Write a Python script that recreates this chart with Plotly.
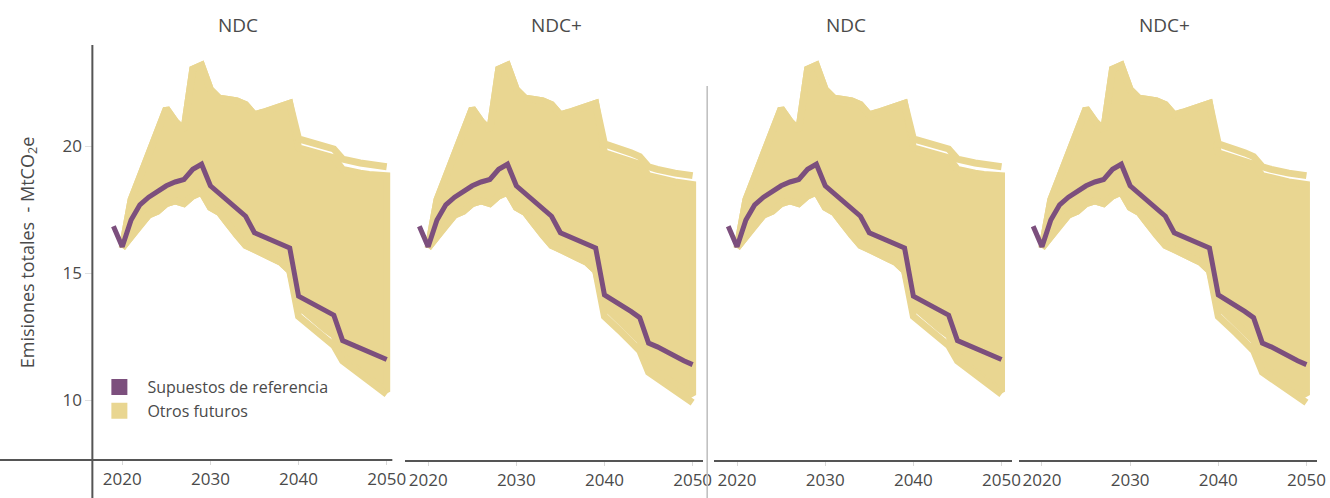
import plotly.graph_objects as go

# ---------------- data ----------------
years_ref = list(range(2019, 2051))
years_fut = list(range(2020, 2051))

ref_ndc = [16.85, 16.05, 17.1, 17.7, 18.0, 18.25, 18.45, 18.6, 18.7, 19.1, 19.3,
           18.45, 18.15, 17.85, 17.55, 17.25, 16.6, 16.45, 16.3, 16.15, 16.0,
           14.1, 13.9, 13.75, 13.55, 13.35, 12.35, 12.2, 12.05, 11.9, 11.75, 11.6]
ref_ndcplus = [16.85, 16.05, 17.1, 17.7, 18.0, 18.25, 18.45, 18.6, 18.7, 19.1, 19.3,
               18.45, 18.15, 17.85, 17.55, 17.25, 16.6, 16.45, 16.3, 16.15, 16.0,
               14.15, 13.95, 13.75, 13.5, 13.25, 12.25, 12.1, 11.9, 11.75, 11.55, 11.4]

# highest / second-highest / second-lowest / lowest of the "other futures" runs
fut_top_ndc = [16.0, 17.9, 18.8, 19.7, 20.6, 21.5, 21.0, 20.65, 23.05, 23.2,
               22.25, 21.9, 21.85, 21.8, 21.65, 21.25, 21.35, 21.45, 21.55, 21.7,
               20.3, 20.2, 20.1, 20.0, 19.9, 19.5, 19.4, 19.35, 19.3, 19.25, 19.2]
fut_top2_ndc = [16.0, 17.9, 18.8, 19.7, 20.6, 21.5, 21.0, 20.65, 23.05, 23.2,
                22.25, 21.9, 21.85, 21.8, 21.65, 21.25, 21.35, 21.45, 21.55, 21.7,
                19.95, 19.85, 19.75, 19.65, 19.55, 19.1, 19.0, 18.95, 18.9, 18.85, 18.85]
fut_low2_ndc = [16.0, 16.45, 16.9, 17.3, 17.45, 17.75, 17.85, 17.75, 18.05, 18.2,
                17.6, 17.4, 16.95, 16.5, 16.1, 15.95, 15.75, 15.6, 15.43, 15.1,
                13.7, 13.4, 13.1, 12.8, 12.55, 11.8, 11.4, 11.1, 10.85, 10.6, 10.33]
fut_low_ndc = [16.0, 16.45, 16.9, 17.3, 17.45, 17.75, 17.85, 17.75, 18.05, 18.2,
               17.6, 17.4, 16.95, 16.5, 16.1, 15.95, 15.75, 15.6, 15.43, 15.1,
               13.3, 13.0, 12.7, 12.4, 12.15, 11.55, 11.3, 11.0, 10.75, 10.5, 10.23]

fut_top_ndcplus = [16.0, 17.9, 18.8, 19.7, 20.6, 21.5, 21.0, 20.65, 23.05, 23.2,
                   22.25, 21.9, 21.85, 21.8, 21.65, 21.25, 21.35, 21.45, 21.55, 21.7,
                   20.1, 20.0, 19.9, 19.75, 19.6, 19.2, 19.1, 19.0, 18.95, 18.9, 18.85]
fut_top2_ndcplus = [16.0, 17.9, 18.8, 19.7, 20.6, 21.5, 21.0, 20.65, 23.05, 23.2,
                    22.25, 21.9, 21.85, 21.8, 21.65, 21.25, 21.35, 21.45, 21.55, 21.7,
                    19.75, 19.65, 19.55, 19.45, 19.3, 18.85, 18.75, 18.65, 18.6, 18.55, 18.5]
fut_low2_ndcplus = [16.0, 16.45, 16.9, 17.3, 17.45, 17.75, 17.85, 17.75, 18.05, 18.2,
                    17.6, 17.4, 16.95, 16.5, 16.1, 15.95, 15.75, 15.6, 15.43, 15.1,
                    13.7, 13.4, 13.05, 12.7, 12.35, 11.45, 11.1, 10.85, 10.6, 10.4, 10.2]
fut_low_ndcplus = [16.0, 16.45, 16.9, 17.3, 17.45, 17.75, 17.85, 17.75, 18.05, 18.2,
                   17.6, 17.4, 16.95, 16.5, 16.1, 15.95, 15.75, 15.6, 15.43, 15.1,
                   13.3, 13.0, 12.65, 12.3, 11.95, 11.1, 10.85, 10.6, 10.35, 10.1, 9.9]

panel_titles = ["NDC", "NDC+", "NDC", "NDC+"]
x_ticks = [2020, 2030, 2040, 2050]
y_ticks = [10, 15, 20]

set_ndc = (ref_ndc, fut_top_ndc, fut_top2_ndc, fut_low2_ndc, fut_low_ndc)
set_ndcplus = (ref_ndcplus, fut_top_ndcplus, fut_top2_ndcplus, fut_low2_ndcplus, fut_low_ndcplus)
panels = [set_ndc, set_ndcplus, set_ndc, set_ndcplus]

# ---------------- style ----------------
W, H = 1330, 498
M_T, M_B = 45, 38
PH = H - M_T - M_B
PURPLE = "#7C4F7D"
YELLOW = "#E9D691"
AXIS = "#555555"
TXT = "#4a4a4a"
FONT = "Open Sans"
panel_left_px = [100, 408, 719, 1026]
panel_w_px = 300
x_range = [2017.4, 2051.2]
y_range = [7.64, 24.0]
FUT_W = 7

fig = go.Figure()

for i, (ref, top, top2, low2, low) in enumerate(panels):
    xa = "x" if i == 0 else f"x{i+1}"
    ya = "y" if i == 0 else f"y{i+1}"
    # band of the bulk of futures
    fig.add_trace(go.Scatter(
        x=years_fut + years_fut[::-1], y=top2 + low2[::-1],
        xaxis=xa, yaxis=ya, mode="lines", fill="toself",
        fillcolor=YELLOW, line=dict(color=YELLOW, width=FUT_W),
        showlegend=False, hoverinfo="skip"))
    # extreme futures
    for arr in (top, low):
        fig.add_trace(go.Scatter(
            x=years_fut, y=arr, xaxis=xa, yaxis=ya, mode="lines",
            line=dict(color=YELLOW, width=FUT_W), showlegend=False, hoverinfo="skip"))
    fig.add_trace(go.Scatter(
        x=years_ref, y=ref, xaxis=xa, yaxis=ya, mode="lines",
        line=dict(color=PURPLE, width=5), showlegend=False))

# legend entries
fig.add_trace(go.Scatter(x=[None], y=[None], mode="markers", name="Supuestos de referencia",
                         marker=dict(symbol="square", size=20, color=PURPLE)))
fig.add_trace(go.Scatter(x=[None], y=[None], mode="markers", name="Otros futuros",
                         marker=dict(symbol="square", size=20, color=YELLOW)))

def py(p):
    return (M_T + PH - p) / PH

layout = dict(
    width=W, height=H,
    margin=dict(l=0, r=0, t=M_T, b=M_B),
    paper_bgcolor="white", plot_bgcolor="white",
    font=dict(family=FONT, color=TXT, size=17),
    showlegend=True,
    legend=dict(x=92 / W, y=py(370), xanchor="left", yanchor="top",
                font=dict(size=16, color=TXT), itemwidth=46, bgcolor="rgba(0,0,0,0)",
                tracegroupgap=0),
)

for i in range(4):
    xk = "xaxis" if i == 0 else f"xaxis{i+1}"
    yk = "yaxis" if i == 0 else f"yaxis{i+1}"
    d0 = panel_left_px[i] / W
    d1 = min((panel_left_px[i] + panel_w_px) / W, 1.0)
    layout[xk] = dict(domain=[d0, d1], range=x_range, tickvals=x_ticks,
                      showgrid=False, zeroline=False,
                      showline=(i != 0), linecolor=AXIS, linewidth=2,
                      ticks="outside", ticklen=4, tickcolor="#d8d8d8",
                      tickfont=dict(size=17, color=TXT),
                      anchor="y" if i == 0 else f"y{i+1}")
    if i == 0:
        layout[yk] = dict(range=y_range, anchor="free", position=93 / W,
                          tickvals=y_ticks, showgrid=False, zeroline=False,
                          showline=False, ticks="outside", ticklen=7,
                          tickcolor="#e0e0e0", tickfont=dict(size=17, color=TXT),
                          title=dict(text="Emisiones totales  - MtCO<sub>2</sub>e",
                                     font=dict(size=18, color=TXT), standoff=22))
    else:
        layout[yk] = dict(range=y_range, anchor=f"x{i+1}", showgrid=False,
                          zeroline=False, showticklabels=False, showline=False,
                          matches="y")

fig.update_layout(**layout)

# panel titles
title_px = [240, 560, 852, 1172]
for t, px in zip(panel_titles, title_px):
    fig.add_annotation(text=t, x=px / W, y=py(25), xref="paper", yref="paper",
                       showarrow=False, font=dict(size=19, color=TXT),
                       xanchor="center", yanchor="middle")

# y axis line (extends below the x axis) and x axis line of first panel (extends left)
fig.add_shape(type="line", xref="paper", yref="paper", x0=93 / W, x1=93 / W,
              y0=py(498), y1=py(45), line=dict(color=AXIS, width=2))
fig.add_shape(type="line", xref="paper", yref="paper", x0=0, x1=395 / W,
              y0=py(460), y1=py(460), line=dict(color=AXIS, width=2))
# divider between the two pairs of panels
fig.add_shape(type="line", xref="paper", yref="paper", x0=712 / W, x1=712 / W,
              y0=py(498), y1=py(86), line=dict(color="#bdbdbd", width=1.5))

fig.write_html("out.html", config={"displayModeBar": False},
               post_script="document.body.style.margin='0';document.body.style.overflow='hidden';")
